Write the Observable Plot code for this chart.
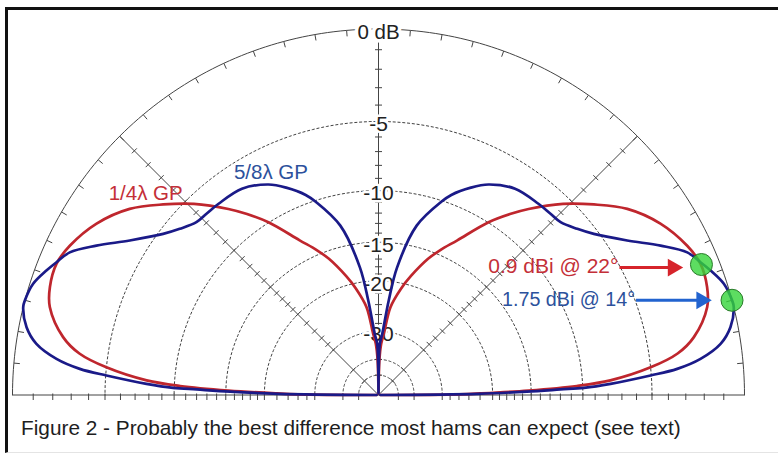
<!DOCTYPE html>
<html>
<head>
<meta charset="utf-8">
<script src="https://cdn.jsdelivr.net/npm/d3@7"></script>
<script src="https://cdn.jsdelivr.net/npm/@observablehq/plot@0.6"></script>
<style>
  html, body { margin: 0; padding: 0; background: #fff; }
  body { width: 778px; height: 457px; position: relative; overflow: hidden; font-family: "Liberation Sans", Arial, sans-serif; }
  #frame { position: absolute; left: 5px; top: 7px; width: 773px; height: 446px; box-sizing: border-box;
           border-top: 3px solid #111; border-left: 3px solid #111; border-bottom: 1px solid #e4e4e4; }
  #chart { position: absolute; left: 8px; top: 10px; }
  #caption { position: absolute; left: 21px; top: 418px; font-size: 20.8px; line-height: 1; color: #1e1e1e; white-space: nowrap; }
</style>
</head>
<body>
<div id="frame"></div>
<div id="chart"></div>
<div id="caption">Figure 2 - Probably the best difference most hams can expect (see text)</div>
<script>
// ---------------- data (elevation angle in degrees, relative gain in dB) ----------------
const quarterAngle = [0, 0.5, 0.9, 1.7, 2.6, 3.6, 5.8, 7.9, 10.4, 15, 18.2, 22.2, 25.8, 31.3, 36.8, 41.5, 46, 51.1, 54, 57.5, 63, 67, 70, 74.8, 78, 82.2, 85, 87, 88.5, 90];
const quarterGain  = [-90, -26, -22, -15.3, -10.5, -7.8, -5.0, -3.3, -2.27, -1.25, -0.97, -0.88, -1.12, -1.78, -2.81, -4.14, -5.5, -7.31, -8.45, -9.96, -12.8, -14.5, -15.9, -18.7, -20.8, -24.3, -30.6, -33.7, -40, -90];

const fiveEighthAngle = [0, 0.7, 1.3, 1.75, 2.0, 2.76, 4.1, 5.0, 6.4, 8.5, 10.9, 13.9, 15, 17.85, 20.55, 22.4, 24.8, 27.9, 31.85, 36.8, 39.9, 43.5, 46.5, 50.1, 56.5, 62.4, 66, 70, 72, 77.3, 81.7, 83.8, 86.5, 88.5, 89.5, 90];
const fiveEighthGain  = [-90, -22.3, -15.5, -12, -9.9, -7.8, -5.05, -3.42, -2.09, -0.97, -0.36, 0, 0, -0.15, -0.54, -0.85, -1.26, -2.35, -3.83, -5.29, -5.93, -6.47, -6.55, -6.59, -6.72, -7.42, -8.2, -9.3, -10.1, -12.8, -17.9, -23.1, -30.7, -33.7, -45, -90];

const seriesNames = ["1/4λ GP", "5/8λ GP"];
const peakAngle = [22, 15];
const peakGain = [-0.85, 0];
const peakLabels = ["0.9 dBi @ 22°", "1.75 dBi @ 14°"];

const ringGains = [-5, -10, -15, -20, -30, -40, -50];
const axisLabelGains = [-5, -10, -15, -20, -30];
const axisLabelTexts = ["-5", "-10", "-15", "-20", "-30"];
const topLabel = "0 dB";
const tickGains = [-1,-2,-3,-4,-5,-6,-7,-8,-9,-10,-11,-12,-13,-14,-15,-16,-17,-18,-19,-20,-22,-24,-26,-28,-30,-40,-50];
const spokeAngles = [45, 90, 135];
const rimTickAngles = [5,10,15,20,25,30,35,40,45,50,55,60,65,70,75,80,85,95,100,105,110,115,120,125,130,135,140,145,150,155,160,165,170,175];

// series label placement (polar: angle, gain)
const nameAngle = [139.1, 115.8];
const nameGain = [-2.96, -6.74];

// ---------------- helpers ----------------
const RPX = 366;                 // outer radius in px (layout)
const px = v => v / RPX;         // px -> plot units
const rad = g => Math.pow(0.89, -g / 2);   // ARRL log-periodic scale
const pol = (deg, g) => { const t = deg * Math.PI / 180, rr = rad(g); return {x: rr * Math.cos(t), y: rr * Math.sin(t)}; };

const RED = "#bf262d", NAVY = "#1a1a88";
const textColors = ["#c42f38", "#2c519c"];
const arrowColors = ["#d6242b", "#2263cf"];
const peakFont = [21, 19.7];

function pattern(angles, gains) {
  const left = angles.map((a, i) => pol(180 - a, gains[i]));
  const right = angles.map((a, i) => pol(a, gains[i])).reverse();
  return left.concat(right);
}
const quarter = pattern(quarterAngle, quarterGain);
const fiveEighth = pattern(fiveEighthAngle, fiveEighthGain);

const arc = g => d3.range(0, 181, 1).map(a => ({...pol(a, g), g}));
const rings = ringGains.flatMap(arc);

const spokes = spokeAngles.map(a => ({x1: 0, y1: 0, x2: pol(a, 0).x, y2: pol(a, 0).y}));

const ticks = [];
for (const a of [0, 45, 90, 135, 180]) {
  const t = a * Math.PI / 180, nx = -Math.sin(t), ny = Math.cos(t);
  for (const g of tickGains) {
    const c = pol(a, g);
    if (a === 0 || a === 180) {
      ticks.push({x1: c.x, y1: px(1.5), x2: c.x, y2: -px(5)});
    } else {
      ticks.push({x1: c.x - nx * px(3.5), y1: c.y - ny * px(3.5), x2: c.x + nx * px(3.5), y2: c.y + ny * px(3.5)});
    }
  }
}
const rimTicks = rimTickAngles.map(a => {
  const t = a * Math.PI / 180;
  return {x1: Math.cos(t), y1: Math.sin(t), x2: (1 - px(6)) * Math.cos(t), y2: (1 - px(6)) * Math.sin(t)};
});

const axisLabels = axisLabelGains.map((g, i) => ({x: 0, y: rad(g), text: axisLabelTexts[i]}));
const peaks = peakAngle.map((a, i) => ({...pol(a, peakGain[i]), label: peakLabels[i], i}));
const names = seriesNames.map((n, i) => ({...pol(nameAngle[i], nameGain[i]), text: n, i}));

// arrow geometry (px offsets from peak marker)
const arrowStart = [82, 96], arrowTip = [19, 21], arrowDy = [3, 0];
const shafts = peaks.map((p, i) => ({x1: p.x - px(arrowStart[i]), x2: p.x - px(arrowTip[i] + 11), y: p.y - px(arrowDy[i]), i}));
const heads = peaks.map((p, i) => ({x: p.x - px(arrowTip[i] + 9.5), y: p.y - px(arrowDy[i]), i}));
const texts = peaks.map((p, i) => ({x: p.x - px(arrowStart[i] + 1), y: p.y - px(arrowDy[i] - 1), text: p.label, i}));

const FONT = "Liberation Sans, Arial, sans-serif";

const plot = Plot.plot({
  width: 770, height: 400, margin: 0,
  style: {background: "transparent", fontFamily: FONT},
  x: {domain: [-1, 1], range: [4, 736], axis: null},
  y: {domain: [0, 1], range: [384.5, 18.5], axis: null},
  marks: [
    Plot.line(rings, {x: "x", y: "y", z: "g", stroke: "#2a2a2a", strokeWidth: 0.9, strokeDasharray: "2.2,2.6"}),
    Plot.line(arc(0), {x: "x", y: "y", stroke: "#444", strokeWidth: 1}),
    Plot.link([{x1: -1, y1: 0, x2: 1, y2: 0}], {x1: "x1", y1: "y1", x2: "x2", y2: "y2", stroke: "#444", strokeWidth: 1}),
    Plot.link(spokes, {x1: "x1", y1: "y1", x2: "x2", y2: "y2", stroke: "#444", strokeWidth: 1}),
    Plot.link(ticks, {x1: "x1", y1: "y1", x2: "x2", y2: "y2", stroke: "#444", strokeWidth: 1}),
    Plot.link(rimTicks, {x1: "x1", y1: "y1", x2: "x2", y2: "y2", stroke: "#444", strokeWidth: 1}),
    Plot.text(axisLabels, {x: "x", y: "y", text: "text", fontSize: 21, dy: 3, fill: "#222", stroke: "white", strokeWidth: 5, fontFamily: FONT}),
    Plot.text([{x: 0, y: 1, text: topLabel}], {x: "x", y: "y", text: "text", fontSize: 20.5, dy: 3, fill: "#222", stroke: "white", strokeWidth: 7, fontFamily: FONT}),
    Plot.line(quarter, {x: "x", y: "y", stroke: RED, strokeWidth: 2.7, curve: "catmull-rom"}),
    Plot.line(fiveEighth, {x: "x", y: "y", stroke: NAVY, strokeWidth: 2.7, curve: "catmull-rom"}),
    Plot.text(names, {x: "x", y: "y", text: "text", fontSize: 20.5, fill: d => textColors[d.i], fontFamily: FONT}),
    Plot.link(shafts, {x1: "x1", x2: "x2", y1: "y", y2: "y", stroke: d => arrowColors[d.i], strokeWidth: 3}),
    Plot.dot(heads, {x: "x", y: "y", symbol: "triangle", r: 6.6, rotate: 90, fill: d => arrowColors[d.i], stroke: "none"}),
    Plot.text(texts, {x: "x", y: "y", text: "text", textAnchor: "end", fontSize: d => peakFont[d.i], fill: d => textColors[d.i], fontFamily: FONT}),
    Plot.dot(peaks, {x: "x", y: "y", r: 11, fill: "#35d43a", fillOpacity: 0.8, stroke: "#2a7a2a", strokeWidth: 1})
  ]
});
document.getElementById("chart").appendChild(plot);
</script>
</body>
</html>
